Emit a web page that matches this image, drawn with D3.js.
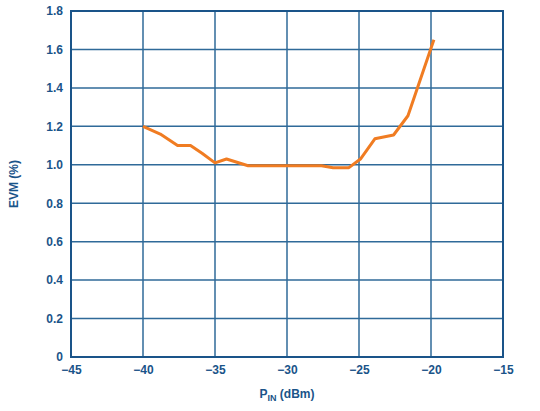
<!DOCTYPE html>
<html><head><meta charset="utf-8">
<script src="https://cdn.jsdelivr.net/npm/d3@7"></script>
<style>body{margin:0;background:#fff}</style>
</head><body><div id="chart"></div>
<script>
// Data
const pin = [-40, -38.8, -37.6, -36.7, -35.9, -35.0, -34.2, -32.7, -30, -27.6, -26.8, -25.7, -24.9, -23.9, -22.6, -21.6, -19.8];
const evm = [1.2, 1.16, 1.1, 1.1, 1.06, 1.01, 1.03, 0.995, 0.995, 0.995, 0.985, 0.985, 1.03, 1.135, 1.155, 1.255, 1.65];
const xTicks = [-45, -40, -35, -30, -25, -20, -15];
const yTicks = [0, 0.2, 0.4, 0.6, 0.8, 1.0, 1.2, 1.4, 1.6, 1.8];

const width = 540, height = 411;
const m = {left: 71, right: 37, top: 11, bottom: 54};
const blue = "#1a5489";

const svg = d3.select("#chart").append("svg")
  .attr("width", width).attr("height", height);

const x = d3.scaleLinear().domain([-45, -15]).range([m.left, width - m.right]);
const y = d3.scaleLinear().domain([0, 1.8]).range([height - m.bottom, m.top]);

// Grid
svg.append("g").selectAll("line").data(xTicks).enter().append("line")
  .attr("x1", d => x(d)).attr("x2", d => x(d))
  .attr("y1", y(0)).attr("y2", y(1.8))
  .attr("stroke", "#2f6a99").attr("stroke-width", 1.5);
svg.append("g").selectAll("line").data(yTicks).enter().append("line")
  .attr("x1", x(-45)).attr("x2", x(-15))
  .attr("y1", d => y(d)).attr("y2", d => y(d))
  .attr("stroke", "#2f6a99").attr("stroke-width", 1.5);

svg.append("rect")
  .attr("x", x(-45)).attr("y", y(1.8))
  .attr("width", x(-15) - x(-45)).attr("height", y(0) - y(1.8))
  .attr("fill", "none").attr("stroke", blue).attr("stroke-width", 2);

// Axes
const xAxis = svg.append("g").attr("transform", `translate(0,${y(0)})`)
  .call(d3.axisBottom(x).tickValues(xTicks).tickSize(0).tickPadding(8)
    .tickFormat(d => d < 0 ? "\u2212" + Math.abs(d) : d));
const yAxis = svg.append("g").attr("transform", `translate(${x(-45)},0)`)
  .call(d3.axisLeft(y).tickValues(yTicks).tickSize(0).tickPadding(8)
    .tickFormat(d => d === 0 ? "0" : d3.format(".1f")(d)));
[xAxis, yAxis].forEach(a => {
  a.select(".domain").remove();
  a.selectAll("text").attr("fill", blue).attr("font-size", "12px")
    .attr("font-weight", "bold").attr("font-family", "Arial, Liberation Sans, sans-serif");
});

// Line
const line = d3.line().x((d, i) => x(pin[i])).y(d => y(d));
svg.append("path").datum(evm)
  .attr("fill", "none").attr("stroke", "#f07c22").attr("stroke-width", 3)
  .attr("stroke-linejoin", "round").attr("d", line);

// Labels
const lbl = svg.append("text")
  .attr("x", x(-30)).attr("y", height - 13)
  .attr("text-anchor", "middle").attr("fill", blue)
  .attr("font-size", "12px").attr("font-weight", "bold")
  .attr("font-family", "Arial, Liberation Sans, sans-serif");
lbl.append("tspan").text("P");
lbl.append("tspan").attr("font-size", "9px").attr("dy", 3).text("IN");
lbl.append("tspan").attr("dy", -3).text(" (dBm)");

svg.append("text")
  .attr("transform", `translate(18,${y(0.9)}) rotate(-90)`)
  .attr("text-anchor", "middle").attr("fill", blue)
  .attr("font-size", "12px").attr("font-weight", "bold")
  .attr("font-family", "Arial, Liberation Sans, sans-serif")
  .text("EVM (%)");
</script>
</body></html>
